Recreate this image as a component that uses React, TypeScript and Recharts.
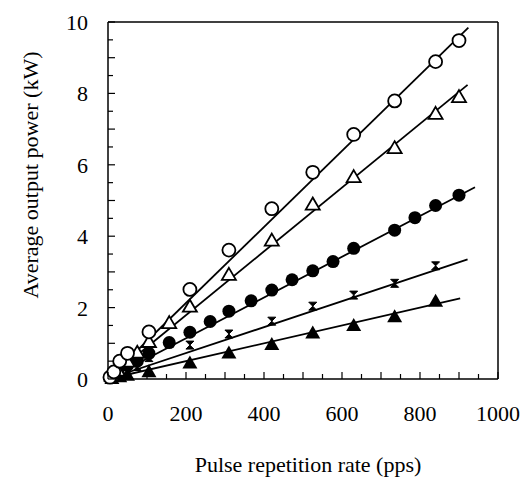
import React from 'react';
import {
  ComposedChart,
  Scatter,
  Line,
  XAxis,
  YAxis,
  ReferenceLine,
} from 'recharts';

// open circles
const openCircleRate = [5, 15, 30, 50, 105, 210, 310, 420, 525, 630, 735, 840, 900];
const openCirclePower = [0.05, 0.2, 0.5, 0.72, 1.32, 2.51, 3.61, 4.77, 5.79, 6.85, 7.79, 8.89, 9.48];

// open triangles
const openTriangleRate = [10, 25, 50, 75, 105, 157, 210, 310, 420, 525, 630, 735, 840, 900];
const openTrianglePower = [0.1, 0.25, 0.5, 0.75, 1.05, 1.58, 2.04, 2.93, 3.89, 4.9, 5.67, 6.48, 7.44, 7.91];

// filled circles
const filledCircleRate = [10, 25, 50, 75, 105, 157, 210, 262, 310, 367, 420, 472, 525, 577, 630, 735, 787, 840, 900];
const filledCirclePower = [0.08, 0.18, 0.38, 0.5, 0.72, 1.02, 1.31, 1.61, 1.9, 2.19, 2.49, 2.78, 3.03, 3.29, 3.66, 4.17, 4.52, 4.86, 5.15];

// hourglass markers
const hourglassRate = [10, 25, 50, 75, 105, 210, 310, 420, 525, 630, 735, 840];
const hourglassPower = [0.05, 0.12, 0.25, 0.35, 0.6, 0.95, 1.26, 1.62, 2.04, 2.35, 2.68, 3.17];

// filled triangles
const filledTriangleRate = [10, 30, 50, 105, 210, 310, 420, 525, 630, 735, 840];
const filledTrianglePower = [0.03, 0.08, 0.12, 0.22, 0.46, 0.74, 0.98, 1.3, 1.51, 1.76, 2.19];

// fitted lines: [start, end]
const fitRate = {
  openCircle: [0, 924],
  openTriangle: [0, 922],
  filledCircle: [0, 941],
  hourglass: [0, 922],
  filledTriangle: [0, 903],
};
const fitPower = {
  openCircle: [0, 9.84],
  openTriangle: [0, 8.24],
  filledCircle: [0, 5.37],
  hourglass: [0, 3.35],
  filledTriangle: [0, 2.26],
};

const rateTicks = [0, 50, 100, 150, 200, 250, 300, 350, 400, 450, 500, 550, 600, 650, 700, 750, 800, 850, 900, 950, 1000];
const powerTicks = [0, 0.5, 1, 1.5, 2, 2.5, 3, 3.5, 4, 4.5, 5, 5.5, 6, 6.5, 7, 7.5, 8, 8.5, 9, 9.5, 10];
const rateLabels = [0, 200, 400, 600, 800, 1000];
const powerLabels = [0, 2, 4, 6, 8, 10];

const textStyle = { fontFamily: "'Liberation Serif', 'DejaVu Serif', serif", fontSize: 22, fill: '#000' };

const zip = (xs: number[], ys: number[]) => xs.map((rate, i) => ({ rate, power: ys[i] }));

const OpenCircle = (p: any) => (
  <circle cx={p.cx} cy={p.cy} r={6.5} fill="#fff" stroke="#000" strokeWidth={1.8} />
);
const FilledCircle = (p: any) => <circle cx={p.cx} cy={p.cy} r={6.5} fill="#000" />;
const OpenTriangle = (p: any) => (
  <path
    d={`M${p.cx},${p.cy - 6.5}L${p.cx + 7},${p.cy + 5.5}L${p.cx - 7},${p.cy + 5.5}Z`}
    fill="#fff"
    stroke="#000"
    strokeWidth={1.8}
  />
);
const FilledTriangle = (p: any) => (
  <path
    d={`M${p.cx},${p.cy - 7}L${p.cx + 7.5},${p.cy + 6}L${p.cx - 7.5},${p.cy + 6}Z`}
    fill="#000"
  />
);
const Hourglass = (p: any) => (
  <path
    d={`M${p.cx - 4},${p.cy - 4}L${p.cx + 4},${p.cy - 4}L${p.cx - 4},${p.cy + 4}L${p.cx + 4},${p.cy + 4}Z`}
    fill="#000"
    stroke="#000"
    strokeWidth={1}
  />
);

const XTick = (props: any) => {
  const { x, y, payload } = props;
  const v = payload.value;
  const len = v % 100 === 0 ? 7 : 5;
  return (
    <g>
      <line x1={x} x2={x} y1={y} y2={y - len} stroke="#000" strokeWidth={1.2} />
      {rateLabels.includes(v) && (
        <text x={x} y={y + 42} textAnchor="middle" style={textStyle}>
          {v}
        </text>
      )}
    </g>
  );
};

const YTick = (props: any) => {
  const { x, y, payload } = props;
  const v = payload.value;
  const len = Number.isInteger(v) ? 7 : 5;
  return (
    <g>
      <line x1={x} x2={x + len} y1={y} y2={y} stroke="#000" strokeWidth={1.2} />
      {powerLabels.includes(v) && (
        <text x={x - 20} y={y + 8} textAnchor="end" style={textStyle}>
          {v}
        </text>
      )}
    </g>
  );
};

const fitLines = Object.keys(fitRate) as (keyof typeof fitRate)[];

export default function App() {
  return (
    <div style={{ position: 'absolute', left: 0, top: 0, background: '#fff' }}>
      <ComposedChart
        width={526}
        height={477}
        margin={{ top: 22, right: 28, bottom: 0, left: 0 }}
      >
        <XAxis
          type="number"
          dataKey="rate"
          domain={[0, 1000]}
          ticks={rateTicks}
          interval={0}
          tickSize={0}
          tickMargin={0}
          tick={<XTick />}
          height={98}
          axisLine={{ stroke: '#000', strokeWidth: 1.5 }}
          label={{
            content: () => (
              <text x={308} y={472} textAnchor="middle" style={textStyle}>
                Pulse repetition rate (pps)
              </text>
            ),
          }}
        />
        <YAxis
          type="number"
          dataKey="power"
          domain={[0, 10]}
          ticks={powerTicks}
          interval={0}
          tickSize={0}
          tickMargin={0}
          tick={<YTick />}
          width={108}
          axisLine={{ stroke: '#000', strokeWidth: 1.5 }}
          label={{
            content: () => (
              <text
                x={30}
                y={175}
                transform="rotate(-90 30 175)"
                textAnchor="middle"
                dominantBaseline="central"
                style={textStyle}
              >
                Average output power (kW)
              </text>
            ),
          }}
        />
        <ReferenceLine y={10} stroke="#000" strokeWidth={1.5} />
        <ReferenceLine x={1000} stroke="#000" strokeWidth={1.5} />
        {fitLines.map((k) => (
          <Line
            key={k}
            data={zip(fitRate[k], fitPower[k])}
            dataKey="power"
            stroke="#000"
            strokeWidth={1.8}
            dot={false}
            activeDot={false}
            isAnimationActive={false}
          />
        ))}
        <Scatter data={zip(filledTriangleRate, filledTrianglePower)} dataKey="power" shape={FilledTriangle} isAnimationActive={false} />
        <Scatter data={zip(hourglassRate, hourglassPower)} dataKey="power" shape={Hourglass} isAnimationActive={false} />
        <Scatter data={zip(filledCircleRate, filledCirclePower)} dataKey="power" shape={FilledCircle} isAnimationActive={false} />
        <Scatter data={zip(openTriangleRate, openTrianglePower)} dataKey="power" shape={OpenTriangle} isAnimationActive={false} />
        <Scatter data={zip(openCircleRate, openCirclePower)} dataKey="power" shape={OpenCircle} isAnimationActive={false} />
      </ComposedChart>
    </div>
  );
}
